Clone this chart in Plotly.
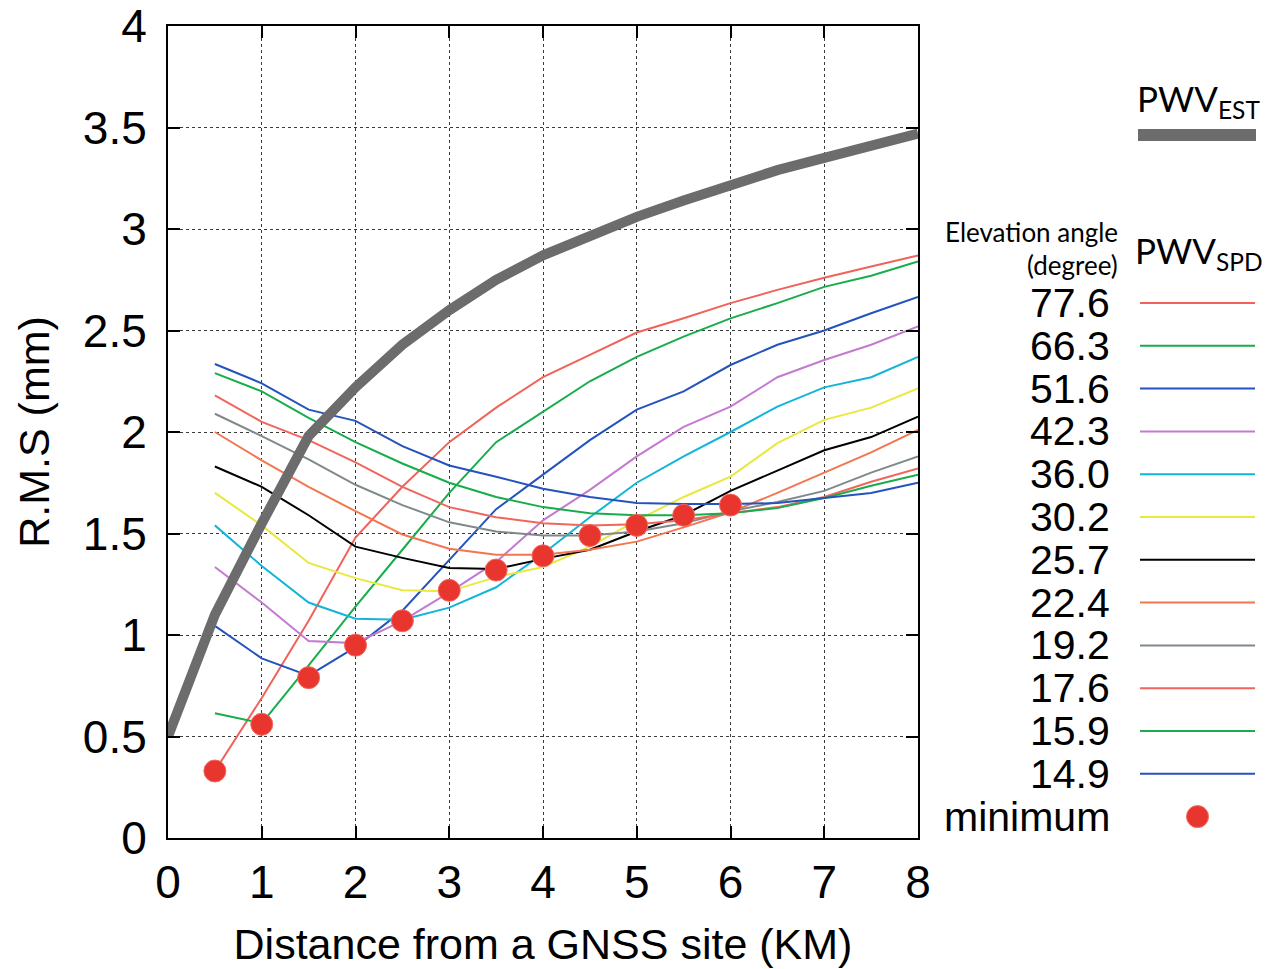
import plotly.graph_objects as go

# ---------------- data ----------------
distance_km = [0.5, 1.0, 1.5, 2.0, 2.5, 3.0, 3.5, 4.0, 4.5, 5.0, 5.5, 6.0, 6.5, 7.0, 7.5, 8.0]
est_distance_km = [0.0, 0.5, 1.0, 1.5, 2.0, 2.5, 3.0, 3.5, 4.0, 4.5, 5.0, 5.5, 6.0, 6.5, 7.0, 7.5, 8.0]
pwv_est_rms = [0.50, 1.10, 1.55, 1.98, 2.22, 2.43, 2.60, 2.75, 2.87, 2.97, 3.06, 3.14, 3.22, 3.29, 3.35, 3.41, 3.47]

elevation_labels = ["77.6", "66.3", "51.6", "42.3", "36.0", "30.2", "25.7", "22.4", "19.2", "17.6", "15.9", "14.9"]
rms_77_6 = [0.33, 0.69, 1.07, 1.48, 1.73, 1.95, 2.12, 2.27, 2.38, 2.49, 2.56, 2.635, 2.70, 2.76, 2.815, 2.87]
rms_66_3 = [0.615, 0.565, 0.85, 1.14, 1.42, 1.70, 1.95, 2.10, 2.25, 2.37, 2.47, 2.56, 2.635, 2.715, 2.77, 2.84]
rms_51_6 = [1.045, 0.885, 0.80, 0.94, 1.12, 1.37, 1.62, 1.79, 1.96, 2.11, 2.20, 2.33, 2.43, 2.50, 2.585, 2.665]
rms_42_3 = [1.335, 1.16, 0.97, 0.96, 1.07, 1.21, 1.36, 1.565, 1.715, 1.88, 2.025, 2.125, 2.27, 2.355, 2.43, 2.52]
rms_36_0 = [1.54, 1.34, 1.16, 1.08, 1.075, 1.135, 1.235, 1.40, 1.58, 1.75, 1.88, 2.00, 2.125, 2.22, 2.27, 2.37]
rms_30_2 = [1.70, 1.54, 1.355, 1.28, 1.22, 1.215, 1.285, 1.335, 1.435, 1.565, 1.68, 1.78, 1.945, 2.06, 2.12, 2.215]
rms_25_7 = [1.83, 1.73, 1.59, 1.435, 1.38, 1.33, 1.325, 1.375, 1.42, 1.51, 1.59, 1.71, 1.81, 1.91, 1.975, 2.075]
rms_22_4 = [2.00, 1.86, 1.73, 1.61, 1.495, 1.425, 1.395, 1.395, 1.42, 1.46, 1.53, 1.605, 1.70, 1.80, 1.90, 2.01]
rms_19_2 = [2.09, 1.98, 1.865, 1.74, 1.64, 1.555, 1.51, 1.49, 1.49, 1.51, 1.55, 1.61, 1.655, 1.71, 1.80, 1.88]
rms_17_6 = [2.18, 2.05, 1.96, 1.85, 1.73, 1.63, 1.58, 1.55, 1.54, 1.545, 1.565, 1.60, 1.63, 1.68, 1.755, 1.82]
rms_15_9 = [2.29, 2.20, 2.07, 1.95, 1.845, 1.75, 1.68, 1.63, 1.60, 1.59, 1.59, 1.60, 1.625, 1.675, 1.735, 1.79]
rms_14_9 = [2.335, 2.24, 2.11, 2.055, 1.93, 1.835, 1.78, 1.72, 1.68, 1.65, 1.645, 1.645, 1.65, 1.675, 1.70, 1.75]

min_distance_km = [0.5, 1.0, 1.5, 2.0, 2.5, 3.0, 3.5, 4.0, 4.5, 5.0, 5.5, 6.0]
min_rms = [0.33, 0.56, 0.79, 0.95, 1.07, 1.22, 1.32, 1.39, 1.49, 1.54, 1.59, 1.64]

x_ticks = [0, 1, 2, 3, 4, 5, 6, 7, 8]
y_ticks = [0, 0.5, 1, 1.5, 2, 2.5, 3, 3.5, 4]

# ---------------- styles ----------------
series = [rms_77_6, rms_66_3, rms_51_6, rms_42_3, rms_36_0, rms_30_2,
          rms_25_7, rms_22_4, rms_19_2, rms_17_6, rms_15_9, rms_14_9]
colors = ["#f0625a", "#17ad4a", "#2453bd", "#c47ad0", "#12b5d9", "#e9e83c",
          "#000000", "#f27650", "#7f898b", "#f0665c", "#17ad4a", "#2453bd"]
EST_COLOR = "#6c6c6c"
DOT_COLOR = "#e8362f"
SANS = "Liberation Sans, Arial"
HUMANIST = "Lato, Open Sans"

# the page body has an 8px margin; figure is sized/offset to compensate
OFF = 8
W, H = 1273 - OFF, 969 - OFF
ML, MR, MT, MB = 168 - OFF, 2, 26 - OFF, 131
plot_w = W - ML - MR
main_right = 918 - OFF
x_dom_main = [0, (main_right - ML) / plot_w]
leg_left = 930 - OFF
x_dom_leg = [(leg_left - ML) / plot_w, 1.0]

fig = go.Figure()

for vals, col in zip(series, colors):
    fig.add_trace(go.Scatter(x=distance_km, y=vals, mode="lines",
                             line=dict(color=col, width=2), showlegend=False,
                             xaxis="x", yaxis="y"))

fig.add_trace(go.Scatter(x=est_distance_km, y=pwv_est_rms, mode="lines",
                         line=dict(color=EST_COLOR, width=10), showlegend=False))

fig.add_trace(go.Scatter(x=min_distance_km, y=min_rms, mode="markers",
                         marker=dict(color=DOT_COLOR, size=22,
                                     line=dict(color="#f06a60", width=1)),
                         showlegend=False))

# ---------------- legend panel (axis x2/y2 in page pixel units) ----------------
row0, row_step = 303, 42.8
num_right = 1112
line_x0, line_x1 = 1140, 1255
LEG_FONT = dict(family=SANS, size=41, color="black")

for i, (lab, col) in enumerate(zip(elevation_labels, colors)):
    yy = row0 + i * row_step
    fig.add_trace(go.Scatter(x=[line_x0, line_x1], y=[yy, yy], mode="lines",
                             line=dict(color=col, width=2), showlegend=False,
                             xaxis="x2", yaxis="y2", hoverinfo="skip"))
    fig.add_annotation(x=num_right, y=yy, xref="x2", yref="y2", text=lab,
                       showarrow=False, xanchor="right", yanchor="middle",
                       font=LEG_FONT)

min_row_y = row0 + len(elevation_labels) * row_step
fig.add_trace(go.Scatter(x=[(line_x0 + line_x1) / 2], y=[min_row_y], mode="markers",
                         marker=dict(color=DOT_COLOR, size=22,
                                     line=dict(color="#f06a60", width=1)),
                         showlegend=False, xaxis="x2", yaxis="y2", hoverinfo="skip"))
fig.add_annotation(x=num_right, y=min_row_y, xref="x2", yref="y2", text="minimum",
                   showarrow=False, xanchor="right", yanchor="middle",
                   font=LEG_FONT)

# PWV_EST legend
fig.add_trace(go.Scatter(x=[1138, 1256], y=[135, 135], mode="lines",
                         line=dict(color=EST_COLOR, width=12), showlegend=False,
                         xaxis="x2", yaxis="y2", hoverinfo="skip"))
fig.add_annotation(x=1135, y=100, xref="x2", yref="y2", text="PWV<sub>EST</sub>",
                   showarrow=False, xanchor="left", yanchor="middle",
                   font=dict(family=HUMANIST, size=35, color="black"))

fig.add_annotation(x=1120, y=232, xref="x2", yref="y2", text="Elevation angle",
                   showarrow=False, xanchor="right", yanchor="middle",
                   font=dict(family=HUMANIST, size=26, color="black"))
fig.add_annotation(x=1120, y=265, xref="x2", yref="y2", text="(degree)",
                   showarrow=False, xanchor="right", yanchor="middle",
                   font=dict(family=HUMANIST, size=26, color="black"))
fig.add_annotation(x=1133, y=252, xref="x2", yref="y2", text="PWV<sub>SPD</sub>",
                   showarrow=False, xanchor="left", yanchor="middle",
                   font=dict(family=HUMANIST, size=35, color="black"))

axis_font = dict(family=SANS, size=46, color="black")
grid_common = dict(showgrid=True, gridcolor="#3a3a3a", gridwidth=1.2, griddash="dot",
                   showline=True, linecolor="black", linewidth=2, mirror="ticks",
                   ticks="inside", ticklen=12, tickwidth=2, tickcolor="black",
                   zeroline=False, tickfont=axis_font, automargin=False,
                   ticklabeloverflow="allow")

fig.update_layout(
    width=W, height=H,
    margin=dict(l=ML, r=MR, t=MT, b=MB),
    paper_bgcolor="white", plot_bgcolor="white",
    xaxis=dict(domain=x_dom_main, range=[0, 8], tickvals=x_ticks,
               ticklabelstandoff=3,
               title=dict(text="Distance from a GNSS site (KM)",
                          font=dict(family=SANS, size=43, color="black"),
                          standoff=22),
               **grid_common),
    yaxis=dict(range=[0, 4], tickvals=y_ticks, ticklabelstandoff=10,
               title=dict(text="R.M.S (mm)",
                          font=dict(family=SANS, size=43, color="black"),
                          standoff=20),
               **grid_common),
    xaxis2=dict(domain=x_dom_leg, range=[930, 1271], visible=False,
                anchor="y2", fixedrange=True),
    yaxis2=dict(domain=[0, 1], range=[838, 26], visible=False,
                anchor="x2", fixedrange=True),
)

fig.write_html("out.html")
